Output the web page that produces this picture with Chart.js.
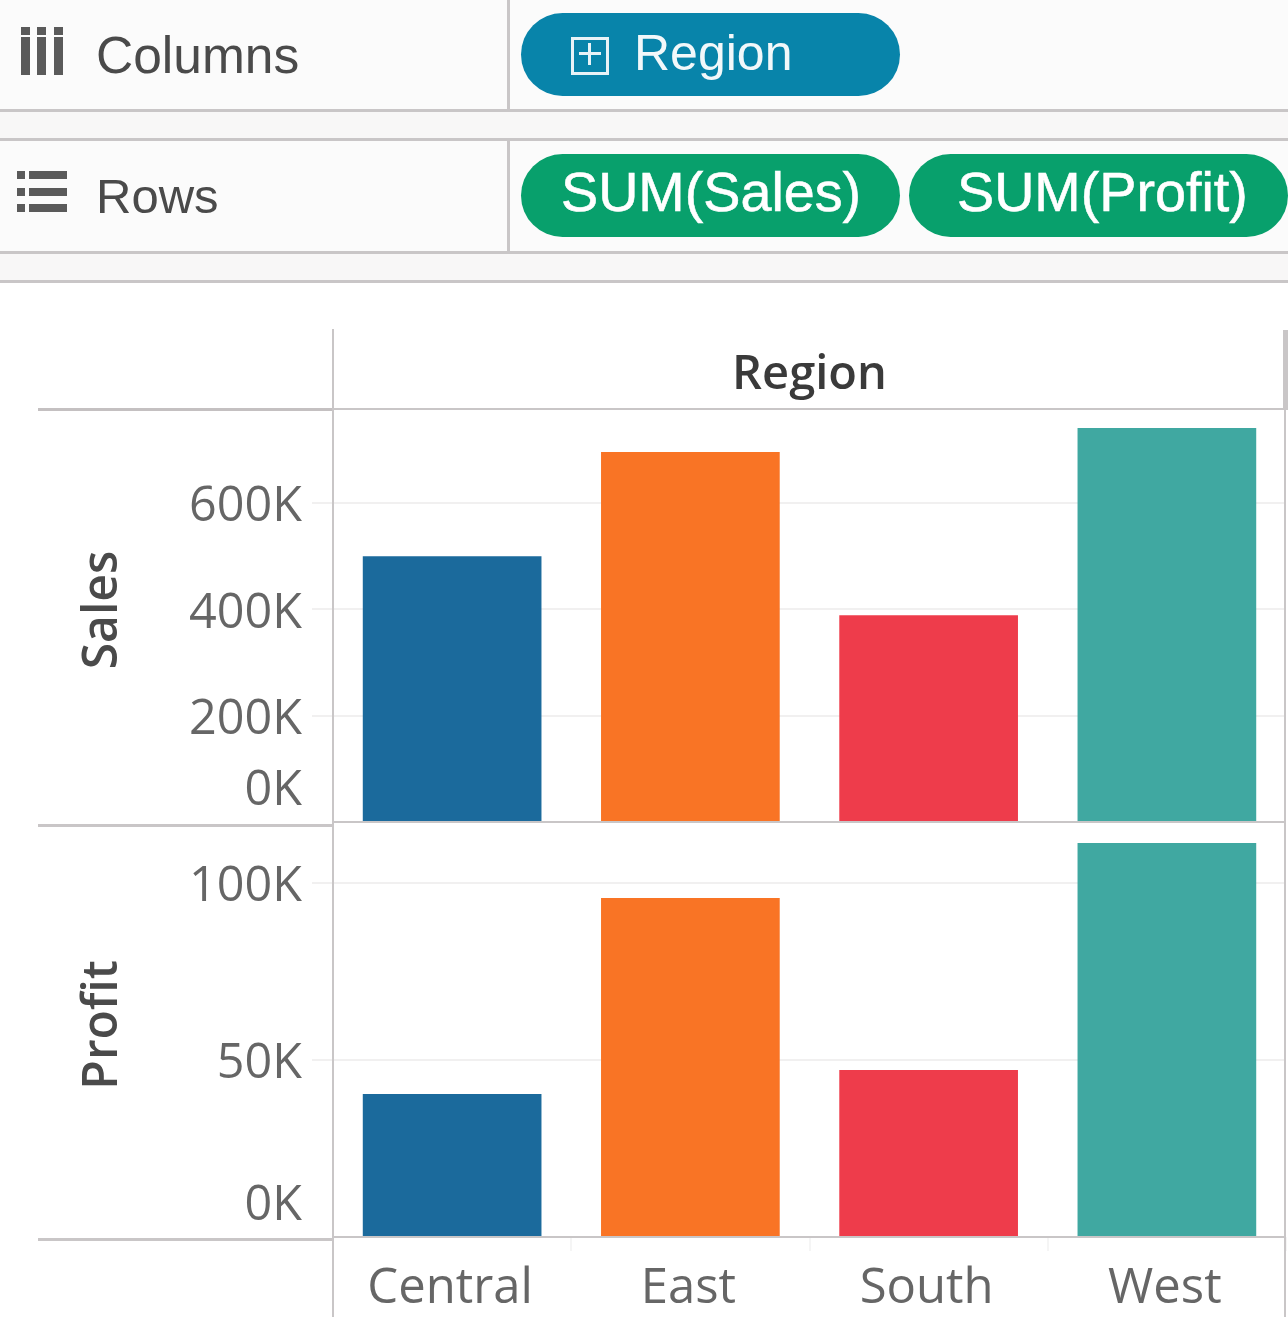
<!DOCTYPE html>
<html>
<head>
<meta charset="utf-8">
<title>Sales and Profit by Region</title>
<script src="https://cdn.jsdelivr.net/npm/chart.js@4/dist/chart.umd.min.js"></script>
<style>
html,body{margin:0;padding:0;background:#fff;}
#page{position:relative;width:1288px;height:1317px;overflow:hidden;background:#fff;}
.abs{position:absolute;}
.line{position:absolute;background:#c9c6c7;}
.label{position:absolute;font-family:"Liberation Sans",sans-serif;color:#4a4a4a;line-height:1;white-space:nowrap;}
.pill{position:absolute;border-radius:42px;height:83px;color:#fff;font-family:"Liberation Sans",sans-serif;line-height:1;white-space:nowrap;text-align:center;}
.icon{position:absolute;background:#5a5a5a;}
canvas{position:absolute;display:block;}
</style>
</head>
<body>
<div id="page">
  <div class="abs" style="left:0;top:0;width:1288px;height:282px;background:#fbfbfb"></div>
  <div class="abs" style="left:0;top:112px;width:1288px;height:27px;background:#f8f7f7"></div>
  <div class="abs" style="left:0;top:254px;width:1288px;height:27px;background:#f8f7f7"></div>
  <div class="line" style="left:0;top:109px;width:1288px;height:3px"></div>
  <div class="line" style="left:0;top:138px;width:1288px;height:3px"></div>
  <div class="line" style="left:0;top:251px;width:1288px;height:3px"></div>
  <div class="line" style="left:0;top:280px;width:1288px;height:3px"></div>
  <div class="line" style="left:507px;top:0;width:3px;height:110px"></div>
  <div class="line" style="left:507px;top:141px;width:3px;height:110px"></div>

  <div class="icon" style="left:21px;top:27px;width:9px;height:8px"></div>
  <div class="icon" style="left:37px;top:27px;width:9px;height:8px"></div>
  <div class="icon" style="left:54px;top:27px;width:9px;height:8px"></div>
  <div class="icon" style="left:21px;top:37px;width:9px;height:38px"></div>
  <div class="icon" style="left:37px;top:37px;width:9px;height:38px"></div>
  <div class="icon" style="left:54px;top:37px;width:9px;height:38px"></div>
  <div class="label" style="left:96px;top:30px;font-size:51.5px">Columns</div>

  <div class="icon" style="left:17px;top:171px;width:8px;height:8px"></div>
  <div class="icon" style="left:17px;top:188px;width:8px;height:8px"></div>
  <div class="icon" style="left:17px;top:204px;width:8px;height:8px"></div>
  <div class="icon" style="left:29px;top:171px;width:38px;height:8px"></div>
  <div class="icon" style="left:29px;top:188px;width:38px;height:8px"></div>
  <div class="icon" style="left:29px;top:204px;width:38px;height:8px"></div>
  <div class="label" style="left:96px;top:172px;font-size:49px">Rows</div>

  <div class="pill" style="left:521px;top:13px;width:379px;background:#0884aa"></div>
  <div class="abs" style="left:571px;top:37px;width:32px;height:32px;border:3px solid #e8f3f7"></div>
  <div class="abs" style="left:579px;top:52px;width:22px;height:3px;background:#e8f3f7"></div>
  <div class="abs" style="left:588px;top:43px;width:3px;height:22px;background:#e8f3f7"></div>
  <div class="label" style="left:634px;top:28px;font-size:50px;color:#f2f8fa">Region</div>

  <div class="pill" style="left:521px;top:154px;width:379px;background:#08a06c"></div>
  <div class="label" style="left:561px;top:165px;font-size:55.7px;color:#fff;-webkit-text-stroke:0.6px #fff">SUM(Sales)</div>
  <div class="pill" style="left:909px;top:154px;width:379px;background:#08a06c"></div>
  <div class="label" style="left:957px;top:165px;font-size:55.7px;color:#fff;-webkit-text-stroke:0.6px #fff">SUM(Profit)</div>

  <canvas id="salesChart" width="1288" height="495" style="left:0;top:330px"></canvas>
  <canvas id="profitChart" width="1288" height="492" style="left:0;top:825px"></canvas>

  <div class="line" style="left:38px;top:408px;width:295px;height:3px;background:#c4c0c1"></div>
  <div class="line" style="left:333px;top:408px;width:955px;height:2px"></div>
  <div class="line" style="left:38px;top:824px;width:295px;height:3px"></div>
  <div class="line" style="left:38px;top:1238px;width:295px;height:3px"></div>
  <div class="line" style="left:332px;top:329px;width:2px;height:988px"></div>
  <div class="line" style="left:1283px;top:330px;width:5px;height:78px"></div>
  <div class="line" style="left:1284px;top:410px;width:2px;height:907px"></div>
</div>
<script>
const regions = ["Central", "East", "South", "West"];
const salesValues = [500000, 696000, 389000, 741000];
const profitValues = [40400, 95800, 47200, 111300];
const salesTicks = [0, 200000, 400000, 600000];
const profitTicks = [0, 50000, 100000];
const barColors = ["#1b6a9c", "#f97425", "#ee3c4b", "#40a8a1"];

const TICK_FONT = {family: "'Open Sans', sans-serif", size: 48.5, lineHeight: 1.44};
const TICK_COLOR = "#666666";
const GRID = "#f1f0f0";
const BASE = "#c9c6c7";

function kLabel(v) {
  const s = (v / 1000) + "K";
  return v === 0 ? [s, ""] : s;
}

function noPadding(s) {
  s.paddingTop = 0; s.paddingBottom = 0; s.paddingLeft = 0; s.paddingRight = 0;
}

const axisTitlePlugin = {
  id: "axisTitle",
  afterDraw(chart, args, opts) {
    const s = chart.scales.y, c = chart.ctx;
    c.save();
    c.translate(opts.x, (s.top + s.bottom) / 2 + opts.shift);
    c.rotate(-Math.PI / 2);
    c.textAlign = "center";
    c.textBaseline = "middle";
    c.font = "600 48px 'Open Sans', sans-serif";
    c.fillStyle = "#4a4a4a";
    c.fillText(opts.text, 0, 0);
    c.restore();
  }
};

function yScale(max, step, tickValues) {
  return {
    type: "linear", position: "left", min: 0, max: max,
    afterFit(s) { s.width = 333; noPadding(s); },
    afterBuildTicks(s) { s.ticks = tickValues.map(v => ({value: v})); },
    border: {display: false},
    grid: {
      color: c => c.tick && c.tick.value === 0 ? BASE : GRID,
      tickColor: c => c.tick && c.tick.value === 0 ? "rgba(0,0,0,0)" : GRID,
      lineWidth: 2,
      tickLength: 21
    },
    ticks: {
      autoSkip: false, includeBounds: false, stepSize: step,
      font: TICK_FONT, color: TICK_COLOR, padding: 10, labelOffset: 4.5,
      callback: kLabel
    }
  };
}

const common = {
  responsive: false, animation: false, devicePixelRatio: 1
};

function barData(values, label) {
  return {
    labels: regions,
    datasets: [{label, data: values, backgroundColor: barColors,
      categoryPercentage: 1, barPercentage: 0.75, borderWidth: 0}]
  };
}

new Chart(document.getElementById("salesChart"), {
  type: "bar",
  data: barData(salesValues, "Sales"),
  plugins: [axisTitlePlugin],
  options: Object.assign({}, common, {
    layout: {padding: {left: 0, right: 2, top: 0, bottom: 3}},
    plugins: {legend: {display: false}, tooltip: {enabled: false},
      axisTitle: {text: "Sales", x: 103, shift: -6}},
    scales: {
      x: {
        type: "category", position: "top",
        afterFit(s) { s.height = 80; noPadding(s); },
        border: {display: false},
        grid: {display: false},
        ticks: {display: false},
        title: {display: true, text: "Region", color: "#3a3a3a",
          font: {family: "'Open Sans', sans-serif", size: 47, weight: "600", lineHeight: 1.2},
          padding: {top: 17, bottom: 0}}
      },
      y: yScale(775000, 200000, salesTicks)
    }
  })
});

new Chart(document.getElementById("profitChart"), {
  type: "bar",
  data: barData(profitValues, "Profit"),
  plugins: [axisTitlePlugin],
  options: Object.assign({}, common, {
    layout: {padding: {left: 0, right: 2, top: 0, bottom: 0}},
    plugins: {legend: {display: false}, tooltip: {enabled: false},
      axisTitle: {text: "Profit", x: 103, shift: -6}},
    scales: {
      x: {
        type: "category", position: "bottom",
        afterFit(s) { s.height = 80; noPadding(s); },
        border: {display: false},
        grid: {offset: true, drawOnChartArea: false, tickColor: "#f5f5f5", tickLength: 14, lineWidth: 2},
        ticks: {font: {family: "'Open Sans', sans-serif", size: 49, lineHeight: 1.2},
          color: TICK_COLOR, padding: 9, labelOffset: -2, maxRotation: 0, autoSkip: false}
      },
      y: yScale(116400, 50000, profitTicks)
    }
  })
});
</script>
</body>
</html>
